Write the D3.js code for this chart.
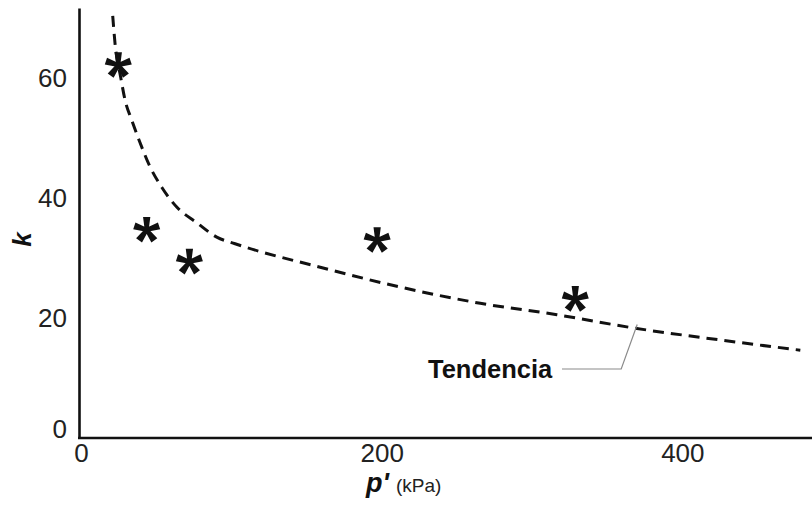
<!DOCTYPE html>
<html>
<head>
<meta charset="utf-8">
<style>
  body { margin: 0; background: #fff; }
  svg { display: block; font-family: "Liberation Sans", Arial, sans-serif; }
</style>
</head>
<body>
<svg width="812" height="506"></svg>
<script src="https://d3js.org/d3.v7.min.js"></script>
<script>
    // measured points (p' in kPa, k)
    var pressure = [24.8, 43.7, 72.1, 197.0, 328.8];
    var kValues = [62.0, 34.6, 29.3, 32.9, 23.1];

    // trend line
    var trendP = [21.1, 22.6, 26.4, 29.3, 33.7, 39.3, 45.9, 53.7, 63.7, 77.0, 90.3, 102.5, 159.1, 212.3, 265.6, 316.6, 367.4, 425.3, 478.5];
    var trendK = [70.2, 65.7, 60.0, 56.2, 52.9, 49.1, 45.1, 41.7, 38.4, 35.8, 33.4, 32.3, 28.4, 25.1, 22.4, 20.5, 18.3, 16.3, 14.6];

    var xTicks = [0, 200, 400];
    var yTicks = [0, 20, 40, 60];
    var trendLabel = "Tendencia";
    var labelAnchor = 370; // p' where the leader line meets the trend

    var svg = d3.select("svg");

    var x = d3.scaleLinear().domain([0, 487.6]).range([81, 814]),
        y = d3.scaleLinear().domain([0, 71.5]).range([438, 8]);

    // axes
    var xAxis = svg.append("g")
        .attr("transform", "translate(0," + y(0) + ")")
        .call(d3.axisBottom(x).tickValues(xTicks).tickSize(0).tickPadding(6));
    xAxis.select(".domain").attr("stroke", "#111").attr("stroke-width", 2.6)
        .attr("d", "M" + (x(0) - 3) + ",0H812");
    xAxis.selectAll("text")
        .attr("fill", "#222")
        .style("font-size", "26px")
        .style("font-family", "Liberation Sans, Arial, sans-serif");

    var yAxis = svg.append("g")
        .attr("transform", "translate(" + (x(0) - 2) + ",0)")
        .call(d3.axisLeft(y).tickValues(yTicks).tickSize(0).tickPadding(12));
    yAxis.select(".domain").attr("stroke", "#111").attr("stroke-width", 2.6);
    yAxis.selectAll("text")
        .attr("fill", "#222")
        .attr("dy", function (d) { return d === 0 ? "-0.02em" : "0.34em"; })
        .style("font-size", "26px")
        .style("font-family", "Liberation Sans, Arial, sans-serif");

    // axis titles
    svg.append("text")
        .attr("transform", "translate(31," + y(33) + ") rotate(-90)")
        .attr("text-anchor", "middle")
        .style("font", "italic bold 26px 'Liberation Sans', Arial, sans-serif")
        .attr("fill", "#111")
        .text("k");

    var xt = svg.append("text")
        .attr("x", 366)
        .attr("y", 492)
        .attr("fill", "#111");
    xt.append("tspan")
        .style("font", "italic bold 27px 'Liberation Sans', Arial, sans-serif")
        .text("p'");
    xt.append("tspan")
        .attr("dx", 7)
        .style("font", "19px 'Liberation Sans', Arial, sans-serif")
        .attr("fill", "#222")
        .text("(kPa)");

    // trend line
    var trend = trendP.map(function (p, i) { return { p: p, k: trendK[i] }; });
    svg.append("path")
        .datum(trend)
        .attr("fill", "none")
        .attr("stroke", "#111")
        .attr("stroke-width", 3)
        .attr("stroke-dasharray", "11,7")
        .attr("d", d3.line()
            .curve(d3.curveMonotoneX)
            .x(function (d) { return x(d.p); })
            .y(function (d) { return y(d.k); }));

    // asterisk markers (five arms, like the bold * glyph)
    var asterisk = {
        draw: function (context, size) {
            var r = Math.sqrt(size) / 2, w0 = r * 0.15, w1 = r * 0.28;
            for (var i = 0; i < 5; i++) {
                var a = i * 2 * Math.PI / 5,
                    ux = Math.sin(a), uy = -Math.cos(a),
                    nx = -uy, ny = ux;
                context.moveTo(nx * w0, ny * w0);
                context.lineTo(ux * r + nx * w1, uy * r + ny * w1);
                context.lineTo(ux * r - nx * w1, uy * r - ny * w1);
                context.lineTo(-nx * w0, -ny * w0);
                context.closePath();
            }
        }
    };

    svg.selectAll(".pt")
        .data(pressure.map(function (p, i) { return { p: p, k: kValues[i] }; }))
        .enter().append("path")
        .attr("class", "pt")
        .attr("transform", function (d) { return "translate(" + x(d.p) + "," + y(d.k) + ")"; })
        .attr("d", d3.symbol().type(asterisk).size(26 * 26))
        .attr("fill", "#111");

    // label with leader line
    var ax = x(labelAnchor), ay = y(19.2);
    svg.append("path")
        .attr("fill", "none")
        .attr("stroke", "#8a8a8a")
        .attr("stroke-width", 1.2)
        .attr("d", "M562,369H" + (ax - 16) + "L" + ax + "," + (ay + 2));
    svg.append("text")
        .attr("x", 428)
        .attr("y", 378)
        .attr("fill", "#111")
        .style("font", "bold 25.5px 'Liberation Sans', Arial, sans-serif")
        .text(trendLabel);
</script>
</body>
</html>
